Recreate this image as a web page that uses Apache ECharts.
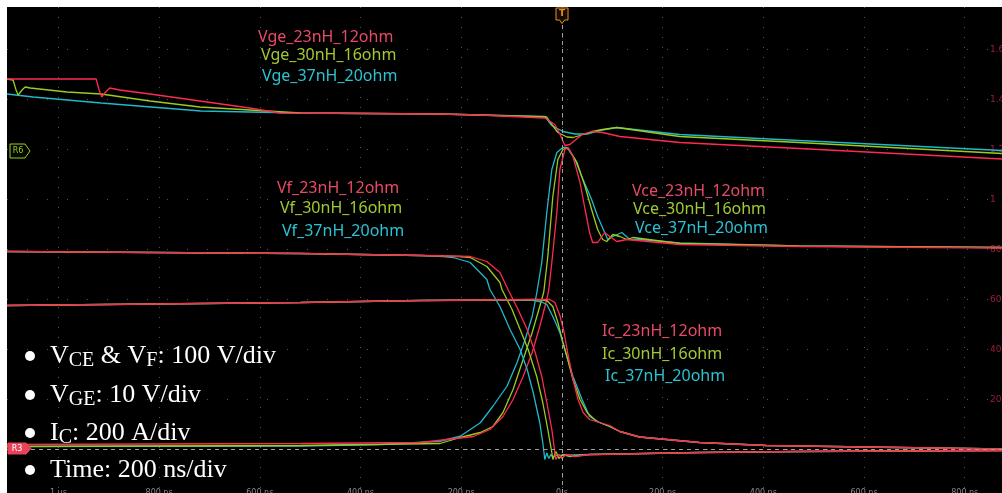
<!DOCTYPE html>
<html>
<head>
<meta charset="utf-8">
<script src="https://cdn.jsdelivr.net/npm/echarts@6/dist/echarts.min.js"></script>
<style>
html,body{margin:0;padding:0;background:#fff;}
#chart{width:1002px;height:493px;}
</style>
</head>
<body>
<div id="chart"></div>
<script>
// time in ns, value in screen units of the right-hand scale (200 per division)
const vge23 = [[-1102,1482],[-925,1482],[-919,1438],[-914,1410],[-906,1430],[-898,1446],[-878,1438],[-818,1422],[-719,1394],[-620,1366],[-560,1346],[-242,1342],[-163,1338],[-34,1326],[-14,1300],[-4,1262],[6,1216],[16,1220],[28,1240],[40,1260],[59,1272],[81,1268],[115,1252],[234,1228],[471,1204],[874,1162]];
const vge30 = [[-1102,1482],[-1090,1478],[-1084,1438],[-1080,1418],[-1072,1438],[-1066,1450],[-1056,1446],[-983,1430],[-915,1422],[-818,1394],[-719,1370],[-586,1354],[-519,1346],[-242,1342],[-163,1338],[-30,1330],[-20,1300],[-8,1268],[10,1250],[22,1248],[42,1260],[61,1272],[81,1280],[109,1288],[234,1252],[471,1228],[874,1184]];
const vge37 = [[-1102,1422],[-1050,1410],[-915,1386],[-816,1370],[-717,1354],[-620,1350],[-519,1346],[-242,1342],[-163,1338],[-34,1332],[-20,1296],[2,1272],[26,1262],[50,1262],[75,1276],[109,1288],[234,1260],[471,1236],[874,1196]];

const vce23 = [[-1102,20],[-519,24],[-281,28],[-176,52],[-143,80],[-117,132],[-97,200],[-77,292],[-59,388],[-44,492],[-30,600],[-26,640],[-20,748],[-10,948],[-4,1120],[6,1200],[12,1208],[22,1172],[36,1068],[46,960],[55,868],[61,828],[71,828],[85,868],[95,852],[109,832],[129,840],[234,820],[471,812],[874,806]];
const vce30 = [[-1102,12],[-519,16],[-242,24],[-202,48],[-162,68],[-137,92],[-117,148],[-97,240],[-77,360],[-59,468],[-44,572],[-36,630],[-28,772],[-18,1012],[-8,1160],[2,1200],[12,1208],[30,1148],[46,1052],[59,960],[71,880],[81,840],[89,832],[101,860],[115,852],[129,840],[141,848],[234,824],[471,814],[874,808]];
const vce37 = [[-1102,12],[-519,14],[-360,20],[-242,33],[-202,53],[-162,107],[-137,173],[-109,253],[-89,348],[-73,440],[-59,532],[-50,625],[-40,748],[-30,948],[-20,1120],[-10,1188],[2,1208],[10,1208],[26,1160],[42,1080],[59,1000],[71,932],[85,868],[91,840],[101,852],[119,868],[135,840],[154,840],[234,826],[471,814],[874,808]];

const vf23 = [[-1102,792],[-519,784],[-281,776],[-182,772],[-149,752],[-123,708],[-107,640],[-87,560],[-69,480],[-53,388],[-40,292],[-30,188],[-20,80],[-14,-12],[-12,-40],[-6,-20],[0,-36],[8,-20],[26,-28],[55,-20],[75,-20],[273,-12],[471,-8],[874,-4]];
const vf30 = [[-1102,792],[-519,784],[-281,776],[-202,772],[-182,768],[-149,732],[-123,668],[-119,640],[-99,560],[-83,480],[-67,400],[-50,292],[-38,188],[-28,80],[-20,-12],[-18,-40],[-12,-8],[-6,-36],[2,-20],[16,-28],[55,-20],[273,-12],[471,-8],[874,-4]];
const vf37 = [[-1102,792],[-519,784],[-281,776],[-236,772],[-216,768],[-182,748],[-149,680],[-143,640],[-123,572],[-103,480],[-83,400],[-69,320],[-57,228],[-44,108],[-38,28],[-34,-40],[-30,-14],[-26,-36],[-22,-20],[-18,-30],[-10,-24],[55,-20],[273,-12],[471,-8],[874,-4]];

const ic23 = [[-1102,576],[-519,588],[-281,596],[-44,600],[-24,600],[-14,588],[-4,536],[4,472],[12,380],[22,280],[32,200],[42,148],[55,120],[75,108],[95,96],[115,72],[154,50],[273,28],[406,16],[669,8],[874,2]];
const ic30 = [[-1102,576],[-519,588],[-281,596],[-50,600],[-30,596],[-18,572],[-8,508],[2,428],[10,372],[22,280],[36,200],[50,148],[69,112],[95,92],[115,72],[154,50],[273,28],[406,16],[669,8],[874,2]];
const ic37 = [[-1102,576],[-519,588],[-281,596],[-60,598],[-40,590],[-30,580],[-18,532],[-4,468],[10,372],[22,292],[40,200],[55,132],[75,108],[95,92],[115,72],[154,50],[273,28],[406,16],[669,8],[874,2]];

const timeTicks = [-1000,-800,-600,-400,-200,0,200,400,600,800];
const timeTickLabels = ['1 µs','800 ns','600 ns','400 ns','200 ns','0 s','200 ns','400 ns','600 ns','800 ns'];
const levelTicks = [0,200,400,600,800,1000,1200,1400,1600];
const levelTickLabels = ['','200','400','600','800','1','1.2','1.4','1.6'];

const RED = '#ff2a52', GREEN = '#9acd1e', CYAN = '#1fb9ca';
const RED_T = '#e84a66', GREEN_T = '#a3c832', CYAN_T = '#2cc2d2';

const traces = [
  {name:'Vge_37nH_20ohm', data:vge37, c:CYAN},
  {name:'Vge_30nH_16ohm', data:vge30, c:GREEN},
  {name:'Vge_23nH_12ohm', data:vge23, c:RED},
  {name:'Vce_37nH_20ohm', data:vce37, c:CYAN},
  {name:'Vce_30nH_16ohm', data:vce30, c:GREEN},
  {name:'Vce_23nH_12ohm', data:vce23, c:RED},
  {name:'Vf_37nH_20ohm', data:vf37, c:CYAN},
  {name:'Vf_30nH_16ohm', data:vf30, c:GREEN},
  {name:'Vf_23nH_12ohm', data:vf23, c:RED},
  {name:'Ic_37nH_20ohm', data:ic37, c:CYAN},
  {name:'Ic_30nH_16ohm', data:ic30, c:GREEN},
  {name:'Ic_23nH_12ohm', data:ic23, c:RED}
];

const series = traces.map((t,i) => ({
  name: t.name, type:'line', data:t.data, showSymbol:false, symbol:'none',
  lineStyle:{color:t.c, width:1.3}, itemStyle:{color:t.c}, z: 3,
  animation:false, silent:true
}));
series[0].markLine = {
  symbol:'none', silent:true, animation:false, label:{show:false},
  lineStyle:{color:'#a0a0a0', type:[4,4], width:1},
  data:[{xAxis:0},{yAxis:0}]
};

function label(text, x, y, color){
  return {type:'text', x:x, y:y, z:50, silent:true,
    style:{text:text, fill:color, font:'16px "Noto Sans"', verticalAlign:'middle'}};
}
const richStyles = {
  m:{fontFamily:'Liberation Serif', fontSize:26, color:'#fff', lineHeight:30, verticalAlign:'middle'},
  s:{fontFamily:'Liberation Serif', fontSize:20, color:'#fff', lineHeight:16, verticalAlign:'bottom'}
};
function bullet(text, y){
  return [
    {type:'circle', z:50, silent:true, shape:{cx:30, cy:y, r:5}, style:{fill:'#fff'}},
    {type:'text', x:50, y:y, z:50, silent:true,
     style:{text:text, rich:richStyles, verticalAlign:'middle', fill:'#fff'}}
  ];
}

const graphics = [
  label('Vge_23nH_12ohm', 258, 37, RED_T),
  label('Vge_30nH_16ohm', 261, 55, GREEN_T),
  label('Vge_37nH_20ohm', 262, 76, CYAN_T),
  label('Vf_23nH_12ohm', 277, 188, RED_T),
  label('Vf_30nH_16ohm', 280, 208, GREEN_T),
  label('Vf_37nH_20ohm', 282, 231, CYAN_T),
  label('Vce_23nH_12ohm', 632, 191, RED_T),
  label('Vce_30nH_16ohm', 633, 209, GREEN_T),
  label('Vce_37nH_20ohm', 635, 228, CYAN_T),
  label('Ic_23nH_12ohm', 602, 331, RED_T),
  label('Ic_30nH_16ohm', 602, 354, GREEN_T),
  label('Ic_37nH_20ohm', 605, 376, CYAN_T),
  ...bullet('{m|V}{s|CE}{m| & V}{s|F}{m|: 100 V/div}', 356),
  ...bullet('{m|V}{s|GE}{m|: 10 V/div}', 395),
  ...bullet('{m|I}{s|C}{m|: 200 A/div}', 433),
  ...bullet('{m|Time: 200 ns/div}', 470),
  // trigger marker
  {type:'polygon', z:60, silent:true,
   shape:{points:[[556,8],[568,8],[568,20],[564.5,20],[562,23.5],[559.5,20],[556,20]]},
   style:{fill:'#140c00', stroke:'#e8901e', lineWidth:1}},
  {type:'text', x:562, y:14, z:61, silent:true,
   style:{text:'T', fill:'#e8901e', font:'bold 9px "DejaVu Sans"', align:'center', verticalAlign:'middle'}},
  // R6 marker
  {type:'polygon', z:60, silent:true,
   shape:{points:[[10,144],[25,144],[30,151],[25,158],[10,158]]},
   style:{fill:'#050800', stroke:'#9acd1e', lineWidth:1}},
  {type:'text', x:18, y:151, z:61, silent:true,
   style:{text:'R6', fill:'#9acd1e', font:'8px "DejaVu Sans"', align:'center', verticalAlign:'middle'}},
  // R3 marker
  {type:'polygon', z:60, silent:true,
   shape:{points:[[8,443],[26,443],[31,448.5],[26,454],[8,454]]},
   style:{fill:'#e8435a', stroke:'#e8435a', lineWidth:1}},
  {type:'text', x:17, y:448.5, z:61, silent:true,
   style:{text:'R3', fill:'#fff', font:'8px "DejaVu Sans"', align:'center', verticalAlign:'middle'}}
];

const chart = echarts.init(document.getElementById('chart'), null, {renderer:'canvas'});
chart.setOption({
  animation:false,
  backgroundColor:'#fff',
  grid:{left:7, top:7, right:0, bottom:0, show:true, backgroundColor:'#000', borderWidth:0,
        containLabel:false, outerBoundsMode:'none'},
  xAxis:{
    type:'value', min:-1102, max:874,
    axisLine:{show:false},
    axisTick:{show:false, customValues:timeTicks},
    axisLabel:{customValues:timeTicks, color:'#8a8a8a', fontSize:8, margin:-4, verticalAlign:'top',
      fontFamily:'DejaVu Sans',
      formatter:(v)=>timeTickLabels[timeTicks.indexOf(v)] || ''},
    splitLine:{show:true, lineStyle:{color:'#555', type:[1,9], width:1}}
  },
  yAxis:{
    type:'value', position:'right', min:-174, max:1770,
    axisLine:{show:false},
    axisTick:{show:false, customValues:levelTicks},
    axisLabel:{inside:true, customValues:levelTicks, color:'#9a1e3c', fontSize:9, align:'left', margin:12,
      fontFamily:'DejaVu Sans',
      formatter:(v)=>levelTickLabels[levelTicks.indexOf(v)] || ''},
    splitLine:{show:true, lineStyle:{color:'#555', type:[1,19], width:1}}
  },
  series:series,
  graphic:graphics
});
</script>
</body>
</html>
